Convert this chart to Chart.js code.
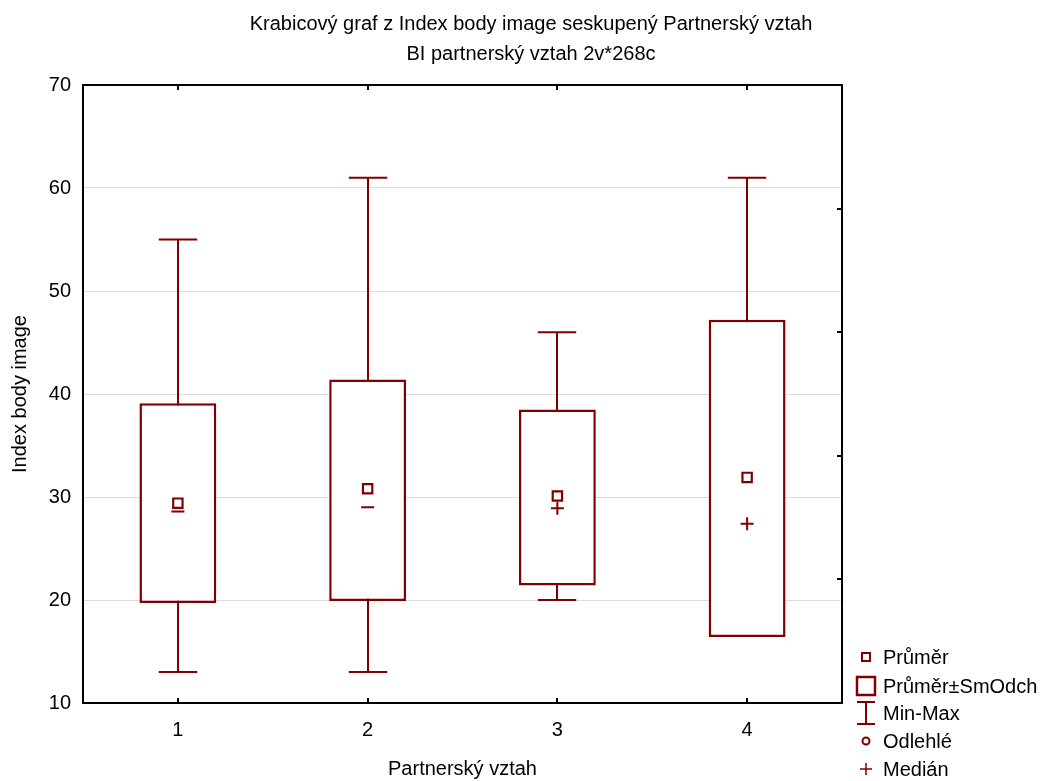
<!DOCTYPE html>
<html><head><meta charset="utf-8">
<script src="https://cdn.jsdelivr.net/npm/chart.js@4.4.1/dist/chart.umd.min.js"></script>
<style>html,body{margin:0;padding:0;background:#fff}canvas{display:block}</style>
</head><body>
<canvas id="c" width="1048" height="781"></canvas>
<script>
const titleLines = ['Krabicový graf z Index body image seskupený Partnerský vztah', 'BI partnerský vztah 2v*268c'];
const categories = ['1', '2', '3', '4'];
const meanValues = [29.4, 30.8, 30.1, 31.9];
const sdLow = [19.7, 19.9, 21.4, 16.4];
const sdHigh = [39.1, 41.4, 38.5, 47.2];
const minValues = [13, 13, 20, 17];
const maxValues = [55, 61, 46, 61];
const medianValues = [28.6, 29.0, 28.9, 27.4];
const medianStyles = ['line', 'line', 'cross', 'cross'];
const legendLabels = ['Průměr', 'Průměr±SmOdch', 'Min-Max', 'Odlehlé', 'Medián'];
const yMin = 10, yMax = 70, yStep = 10, rightStep = 12;

const RED = '#800000';
const FONT = 'Liberation Sans, Arial, sans-serif';

const whiskerPlugin = {
  id: 'whiskers',
  beforeDatasetsDraw(chart) {
    const ctx = chart.ctx, xs = chart.scales.x, ys = chart.scales.y;
    const bars = chart.getDatasetMeta(0).data;
    ctx.save();
    ctx.strokeStyle = RED; ctx.lineWidth = 2;
    categories.forEach((c, i) => {
      const x = Math.round(xs.getPixelForValue(i));
      const half = bars[i].width * 0.25;
      const yT = ys.getPixelForValue(maxValues[i]);
      const yB = ys.getPixelForValue(minValues[i]);
      ctx.beginPath();
      ctx.moveTo(x, yT); ctx.lineTo(x, yB);
      ctx.moveTo(x - half, yT); ctx.lineTo(x + half, yT);
      ctx.moveTo(x - half, yB); ctx.lineTo(x + half, yB);
      ctx.stroke();
    });
    ctx.restore();
  }
};

const framePlugin = {
  id: 'frame',
  afterDatasetsDraw(chart) {
    const ctx = chart.ctx, a = chart.chartArea, xs = chart.scales.x, y2 = chart.scales.y2;
    ctx.save();
    ctx.strokeStyle = '#000'; ctx.lineWidth = 2;
    ctx.strokeRect(a.left, a.top, a.right - a.left, a.bottom - a.top);
    ctx.beginPath();
    categories.forEach((c, i) => {
      const x = Math.round(xs.getPixelForValue(i));
      ctx.moveTo(x, a.bottom); ctx.lineTo(x, a.bottom - 5);
      ctx.moveTo(x, a.top); ctx.lineTo(x, a.top + 5);
    });
    y2.ticks.forEach(t => {
      if (t.value <= yMin || t.value >= yMax) return;
      const y = Math.round(y2.getPixelForValue(t.value));
      ctx.moveTo(a.right, y); ctx.lineTo(a.right - 5, y);
    });
    ctx.stroke();
    ctx.restore();
  }
};

const legendPlugin = {
  id: 'customLegend',
  afterDraw(chart) {
    const ctx = chart.ctx, a = chart.chartArea;
    const sx = a.right + 24, tx = a.right + 41;
    const ys = [657, 686, 713, 741, 769];
    ctx.save();
    ctx.strokeStyle = RED; ctx.fillStyle = '#000';
    ctx.font = '20px ' + FONT; ctx.textBaseline = 'middle'; ctx.textAlign = 'left';
    legendLabels.forEach((l, i) => ctx.fillText(l, tx, ys[i] + 1));
    ctx.lineWidth = 2;
    ctx.strokeRect(sx - 4, ys[0] - 4, 8, 8);
    ctx.lineWidth = 2.5;
    ctx.strokeRect(sx - 9, ys[1] - 9, 18, 18);
    ctx.lineWidth = 2;
    ctx.beginPath();
    ctx.moveTo(sx, ys[2] - 11); ctx.lineTo(sx, ys[2] + 11);
    ctx.moveTo(sx - 9, ys[2] - 11); ctx.lineTo(sx + 9, ys[2] - 11);
    ctx.moveTo(sx - 9, ys[2] + 11); ctx.lineTo(sx + 9, ys[2] + 11);
    ctx.stroke();
    ctx.beginPath(); ctx.arc(sx, ys[3], 3.5, 0, Math.PI * 2); ctx.stroke();
    ctx.lineWidth = 1.5;
    ctx.beginPath();
    ctx.moveTo(sx - 6, ys[4]); ctx.lineTo(sx + 6, ys[4]);
    ctx.moveTo(sx, ys[4] - 6); ctx.lineTo(sx, ys[4] + 6);
    ctx.stroke();
    ctx.restore();
  }
};

Chart.defaults.font.family = FONT;
Chart.defaults.color = '#000';

new Chart(document.getElementById('c'), {
  data: {
    labels: categories,
    datasets: [
      {
        type: 'bar', label: 'Průměr±SmOdch', order: 3,
        data: categories.map((c, i) => [sdLow[i], sdHigh[i]]),
        backgroundColor: '#fff', borderColor: RED, borderWidth: 2.5, borderSkipped: false,
        barPercentage: 0.405, categoryPercentage: 1
      },
      {
        type: 'line', label: 'Medián', order: 2, data: medianValues, showLine: false,
        pointStyle: medianStyles, pointRadius: 6.5, pointBorderWidth: 2,
        pointBorderColor: RED, pointBackgroundColor: RED
      },
      {
        type: 'line', label: 'Průměr', order: 1, data: meanValues, showLine: false,
        pointStyle: 'rect', pointRadius: 6.6, pointBorderWidth: 2.2,
        pointBorderColor: RED, pointBackgroundColor: '#fff'
      }
    ]
  },
  options: {
    responsive: false, animation: false, devicePixelRatio: 1,
    layout: { padding: { left: 14, top: 0, right: 0, bottom: 0 } },
    plugins: {
      legend: { display: false }, tooltip: { enabled: false },
      title: {
        display: true, text: titleLines, color: '#000',
        font: { size: 20, weight: 'normal', lineHeight: 1.5 },
        padding: { top: 9, bottom: 16 }
      }
    },
    scales: {
      x: {
        type: 'category', offset: true,
        grid: { display: false, drawTicks: false }, border: { display: false },
        ticks: { padding: 15, font: { size: 20 }, color: '#000' },
        title: { display: true, text: 'Partnerský vztah', font: { size: 20 }, color: '#000', padding: { top: 0, bottom: 0 } },
        afterFit(s) { s.height = 78; }
      },
      y: {
        type: 'linear', position: 'left', min: yMin, max: yMax,
        grid: { color: '#dcdcdc', lineWidth: 1, drawTicks: false }, border: { display: false },
        ticks: { stepSize: yStep, padding: 12, font: { size: 20 }, color: '#000' },
        title: { display: true, text: 'Index body image', font: { size: 20 }, color: '#000', padding: { top: -6, bottom: 0 } },
        afterFit(s) { s.width = 69; }
      },
      y2: {
        type: 'linear', position: 'right', min: yMin, max: yMax,
        grid: { display: false, drawTicks: false }, border: { display: false },
        ticks: { display: false, stepSize: rightStep },
        afterFit(s) { s.width = 206; }
      }
    }
  },
  plugins: [whiskerPlugin, framePlugin, legendPlugin]
});
</script>
</body></html>
